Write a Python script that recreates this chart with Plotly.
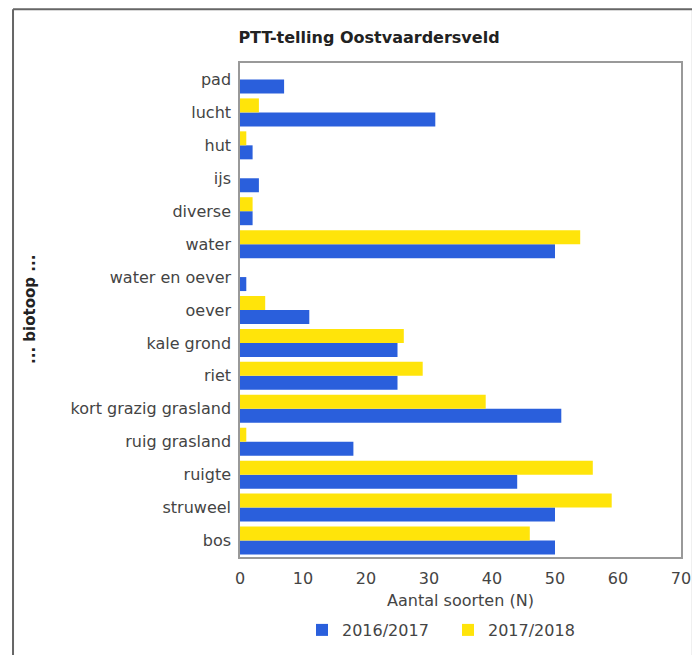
import plotly.graph_objects as go

categories = ["bos", "struweel", "ruigte", "ruig grasland", "kort grazig grasland", "riet",
              "kale grond", "oever", "water en oever", "water", "diverse", "ijs", "hut", "lucht", "pad"]
s2016 = [50, 50, 44, 18, 51, 25, 25, 11, 1, 50, 2, 3, 2, 31, 7]
s2018 = [46, 59, 56, 1, 39, 29, 26, 4, 0, 54, 2, 0, 1, 3, 0]
series_names = ["2016/2017", "2017/2018"]
x_ticks = [0, 10, 20, 30, 40, 50, 60, 70]

BLUE = "#2a5fdc"
YELLOW = "#ffe40a"
FONT = "DejaVu Sans"
TXT = "#444444"

fig = go.Figure()
fig.add_trace(go.Bar(y=categories, x=s2016, name=series_names[0], orientation="h",
                     marker=dict(color=BLUE, line=dict(width=0))))
fig.add_trace(go.Bar(y=categories, x=s2018, name=series_names[1], orientation="h",
                     marker=dict(color=YELLOW, line=dict(width=0))))

fig.update_layout(
    width=700, height=655,
    margin=dict(l=232, r=27, t=55, b=106),
    paper_bgcolor="white", plot_bgcolor="white",
    barmode="group", bargap=0.15, bargroupgap=0,
    font=dict(family=FONT, size=16, color=TXT),
    title=dict(text="<b>PTT-telling Oostvaardersveld</b>", x=361/700, xanchor="center",
               y=1-29/655, yanchor="middle", font=dict(size=16, color="#222")),
    xaxis=dict(range=[0, 70], tickvals=x_ticks, showgrid=False, zeroline=False,
               showline=True, linecolor="#999", linewidth=1.5, mirror=True,
               ticks="", ticklabelstandoff=6, tickfont=dict(size=16, color=TXT),
               title=dict(text="Aantal soorten (N)", standoff=8, font=dict(size=16, color=TXT))),
    yaxis=dict(categoryorder="array", categoryarray=categories, showgrid=False,
               showline=True, linecolor="#999", linewidth=1.5, mirror=True,
               ticks="", ticklabelstandoff=4,
               tickfont=dict(size=16, color=TXT)),
    legend=dict(orientation="h", x=(294-232)/441, xanchor="left", y=-(630-557)/494, yanchor="middle",
                font=dict(size=16, color=TXT), traceorder="normal", itemwidth=30,
                entrywidth=101, entrywidthmode="pixels"),
    showlegend=True,
)

fig.add_annotation(text="<b>... biotoop ...</b>", xref="paper", yref="paper",
                   x=(30-240)/441, xanchor="center", y=0.5, yanchor="middle",
                   textangle=-90, showarrow=False,
                   font=dict(size=15, color="#222"))

# outer frame
for x0, y0, x1, y1 in [(-0.5147, 1.109, 1.027, 1.109), (-0.5147, 1.109, -0.5147, -0.25), (1.027, 1.109, 1.027, -0.25)]:
    fig.add_shape(type="line", xref="paper", yref="paper", x0=x0, y0=y0, x1=x1, y1=y1,
                  line=dict(color="#666", width=2))

fig.write_html("out.html")
